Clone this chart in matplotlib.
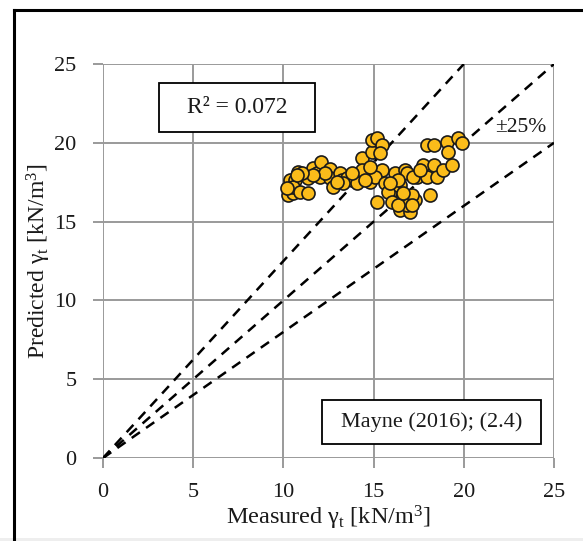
import matplotlib
matplotlib.use("Agg")
import matplotlib.pyplot as plt
from matplotlib.lines import Line2D
from matplotlib.patches import Rectangle

plt.rcParams["font.family"] = ["Liberation Serif", "DejaVu Serif"]
plt.rcParams["mathtext.fontset"] = "custom"
plt.rcParams["mathtext.rm"] = "Liberation Serif"
plt.rcParams["mathtext.it"] = "Liberation Serif:italic"

# Measured vs predicted total unit weight [kN/m3]
measured = [
    10.27, 10.55, 10.37, 10.64, 10.83, 10.55, 10.92, 11.38, 11.38, 11.66,
    11.84, 12.08, 12.03, 12.58, 12.58, 12.73, 13.14, 13.23, 13.51, 13.78,
    14.15, 14.34, 14.34, 14.80, 14.89, 14.89, 15.17, 15.45, 15.36, 15.17,
    15.45, 15.08, 15.63, 16.19, 16.74, 16.83, 16.46, 16.10, 16.28, 16.10,
    16.57, 16.83, 16.46, 17.02, 17.29, 17.39, 17.94, 17.76, 18.32, 18.13,
    18.50, 18.86, 19.33, 17.94, 18.32, 19.05, 19.14, 19.70, 19.88, 15.81,
    16.37, 15.90, 14.80, 14.06, 13.32, 12.95, 12.31, 11.66, 11.01, 10.18,
    17.11, 17.20, 16.83, 17.57, 16.02, 16.37, 17.11, 16.65, 14.52, 13.78,
    10.73,
]
predicted = [
    16.69, 16.79, 17.64, 17.64, 18.17, 17.22, 16.90, 16.79, 17.75, 18.38,
    18.06, 18.76, 17.85, 18.32, 17.75, 17.22, 18.06, 17.64, 17.75, 17.64,
    17.85, 19.01, 18.27, 17.53, 19.44, 20.18, 20.28, 19.86, 19.33, 16.26,
    18.27, 17.85, 17.43, 18.06, 18.27, 18.06, 17.32, 17.01, 16.37, 16.58,
    16.58, 16.37, 15.74, 15.63, 16.37, 17.85, 17.85, 18.59, 18.59, 16.69,
    17.85, 18.27, 18.59, 19.86, 19.86, 20.07, 19.44, 20.28, 19.96, 16.90,
    17.64, 17.43, 18.48, 17.43, 17.43, 17.53, 18.06, 17.96, 18.06, 17.11,
    16.69, 17.85, 16.05, 18.27, 16.26, 16.05, 16.05, 16.79, 17.64, 18.06,
    17.96,
]

# Reference lines: 1:1 and +/-25 %
ref_slopes = [1.25, 1.0, 0.8]
ticks = [0, 5, 10, 15, 20, 25]

fig = plt.figure(figsize=(5.83, 5.41), dpi=100)
ax = fig.add_axes([0.1767, 0.1534, 0.7736, 0.7283])

grey = "#9a9a9a"
for t in ticks:
    ax.axvline(t, color=grey, lw=1.4, zorder=1)
    ax.axhline(t, color=grey, lw=1.4, zorder=1)

for k in ref_slopes:
    xe = min(25, 25 / k)
    ax.plot([0, xe], [0, k * xe], color="black", lw=1.8,
            dashes=(4, 3), zorder=2)

ax.scatter(measured, predicted, s=88, facecolor="#FBBC1A",
           edgecolor="#1a1a1a", linewidth=1.2, zorder=3)

ax.set_xlim(0, 25)
ax.set_ylim(0, 25)
ax.set_xticks(ticks)
ax.set_yticks(ticks)
for s in ax.spines.values():
    s.set_visible(False)
ax.tick_params(axis="both", direction="out", length=7, width=1.4,
               color=grey, labelsize=16, labelcolor="#1a1a1a")
ax.tick_params(axis="y", pad=12)
ax.tick_params(axis="x", pad=11)

ax.set_xlabel(r"Measured γ$_{\mathrm{t}}$ [kN/m$^3$]", fontsize=17.5,
              color="#1a1a1a", labelpad=1)
ax.set_ylabel(r"Predicted γ$_{\mathrm{t}}$ [kN/m$^3$]", fontsize=17,
              color="#1a1a1a", labelpad=1)

# annotation boxes
ax.add_patch(Rectangle((3.10, 20.69), 8.65, 3.10, facecolor="white",
                       edgecolor="black", linewidth=1.3, zorder=4,
                       clip_on=False))
ax.text(7.43, 22.24, "R² = 0.072", fontsize=17, ha="center", va="center",
        color="#1a1a1a", zorder=5)
ax.text(24.6, 21.0, "±25%", fontsize=15.5, ha="right", va="center",
        color="#1a1a1a", zorder=5)
ax.add_patch(Rectangle((12.14, 0.88), 12.14, 2.80, facecolor="white",
                       edgecolor="black", linewidth=1.3, zorder=4,
                       clip_on=False))
ax.text(18.21, 2.28, "Mayne (2016); (2.4)", fontsize=16, ha="center",
        va="center", color="#1a1a1a", zorder=5)

# outer frame (left and top edges)
W, H = 583, 541
fig.add_artist(Line2D([14 / W, 14 / W], [0, 1 - 10 / H], color="black",
                      lw=2.2, transform=fig.transFigure))
fig.add_artist(Line2D([14 / W, 1], [1 - 10 / H, 1 - 10 / H], color="black",
                      lw=2.2, transform=fig.transFigure))
fig.add_artist(Rectangle((0, 0), 1, 3 / H, transform=fig.transFigure,
                         facecolor="#eeeeee", edgecolor="none"))

fig.savefig("out.png", dpi=100)
